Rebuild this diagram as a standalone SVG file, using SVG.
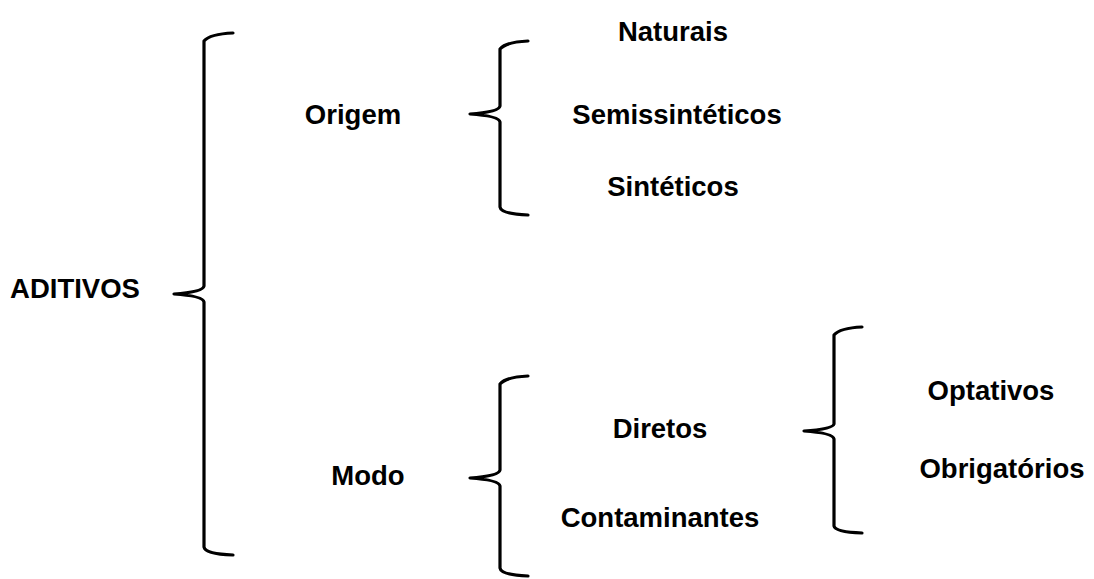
<svg xmlns="http://www.w3.org/2000/svg" width="1094" height="579" viewBox="0 0 1094 579">
<style>
.t{font-family:"Liberation Sans",Arial,sans-serif;font-weight:bold;font-size:27.5px;fill:#000;text-anchor:middle}
.b{fill:none;stroke:#000;stroke-width:3.2;stroke-linejoin:round;stroke-linecap:round}
</style>
<rect width="1094" height="579" fill="#fff"/>
<g id="connectors">
<path class="b" d="M233,33 Q210,34 204,41 L204,286 Q203,292 174,294 Q203,296 204,302 L204,547 Q205,554 233,555"/>
<path class="b" d="M528,41 Q506,42 500,49 L500,106 Q499,112 470,114 Q499,116 500,122 L500,207 Q501,214 528,215"/>
<path class="b" d="M528,376 Q506,377 500,384 L500,470 Q499,476 470,478 Q499,480 500,486 L500,568 Q501,575 528,576"/>
<path class="b" d="M862,327 Q840,328 834,335 L834,424 Q833,429 804,431 Q833,433 834,439 L834,526 Q835,532 862,533"/>
</g>
<g id="aditivos"><text class="t" x="75" y="298">ADITIVOS</text></g>
<g id="origem"><text class="t" x="353" y="124">Origem</text></g>
<g id="naturais"><text class="t" x="673" y="41">Naturais</text></g>
<g id="semissinteticos"><text class="t" x="677" y="124">Semissintéticos</text></g>
<g id="sinteticos"><text class="t" x="673" y="196">Sintéticos</text></g>
<g id="modo"><text class="t" x="368" y="485">Modo</text></g>
<g id="diretos"><text class="t" x="660" y="438">Diretos</text></g>
<g id="contaminantes"><text class="t" x="660" y="527">Contaminantes</text></g>
<g id="optativos"><text class="t" x="991" y="400">Optativos</text></g>
<g id="obrigatorios"><text class="t" x="1002" y="478">Obrigatórios</text></g>
</svg>
